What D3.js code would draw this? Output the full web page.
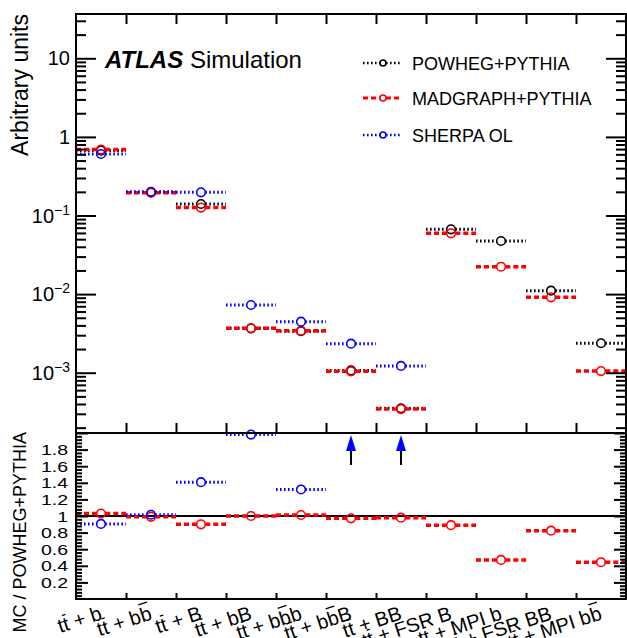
<!DOCTYPE html>
<html>
<head>
<meta charset="utf-8">
<script src="https://cdn.jsdelivr.net/npm/d3@7"></script>
<style>
body { margin: 0; background: #fff; }
text { font-family: "Liberation Sans", Arial, Helvetica, sans-serif; fill: #000; }
</style>
</head>
<body>
<svg></svg>
<script>
// bin labels, {x} means x with an overline
var labels = ["t{t} + b", "t{t} + b{b}", "t{t} + B", "t{t} + bB", "t{t} + b{b}b", "t{t} + b{b}B",
              "t{t} + BB", "t{t} + FSR B", "t{t} + MPI b", "t{t} + FSR BB", "t{t} + MPI b{b}"];

var powheg   = [0.67, 0.197, 0.14, 0.00367, 0.00338, 0.00107, 0.000352, 0.0667, 0.0474, 0.01105, 0.00237];
var madgraph = [0.69, 0.195, 0.126, 0.00367, 0.00342, 0.00104, 0.000345, 0.0593, 0.0223, 0.0091, 0.00105];
var sherpa   = [0.606, 0.20, 0.197, 0.00727, 0.00446, 0.00234, 0.00122, null, null, null, null];
var madgraphRatioErr = [0, 0, 0, 0, 0, 0, 0.05, 0, 0, 0, 0];

var mainTicks = [1e-3, 1e-2, 1e-1, 1, 10];
var ratioTicks = [0.2, 0.4, 0.6, 0.8, 1, 1.2, 1.4, 1.6, 1.8];

var width = 627;
var height = 638;
var padL = 76, padR = 626, padT = 14, padMid = 433, padB = 599;

var svg = d3.select("svg")
            .attr("width", width)
            .attr("height", height);

var x = d3.scaleBand()
          .domain(d3.range(labels.length))
          .range([padL, padR]);
var xEdge = d3.scaleLinear()
              .domain([0, labels.length])
              .range([padL, padR]);
var y = d3.scaleLog()
          .domain([1.71e-4, 36.6])
          .range([padMid, padT]);
var yr = d3.scaleLinear()
           .domain([0, 2])
           .range([padB, padMid]);

var styles = [
  {name: "POWHEG+PYTHIA",   color: "#000",    dash: "1.6,2.4", width: 3},
  {name: "MADGRAPH+PYTHIA", color: "#ff0000", dash: "5,3",     width: 3.5},
  {name: "SHERPA OL",       color: "#0000ff", dash: "1.6,2.4", width: 3}
];

var r = 4.3;

// horizontal bar with a gap for the marker
function drawPoint(g, cx, cy, x0, x1, st, rad) {
  g.append("line").attr("x1", x0).attr("x2", cx - rad).attr("y1", cy).attr("y2", cy)
   .attr("stroke", st.color).attr("stroke-width", st.width).attr("stroke-dasharray", st.dash);
  g.append("line").attr("x1", cx + rad).attr("x2", x1).attr("y1", cy).attr("y2", cy)
   .attr("stroke", st.color).attr("stroke-width", st.width).attr("stroke-dasharray", st.dash);
  g.append("circle").attr("cx", cx).attr("cy", cy).attr("r", rad)
   .attr("fill", "none").attr("stroke", st.color).attr("stroke-width", 1.6);
}

// main panel
var series = [powheg, madgraph, sherpa];
var gMain = svg.append("g");
series.forEach(function(s, k) {
  s.forEach(function(v, i) {
    if (v == null) return;
    drawPoint(gMain, x(i) + x.bandwidth() / 2, y(v), x(i), x(i) + x.bandwidth(), styles[k], r);
  });
});

// ratio panel
var gRatio = svg.append("g");
gRatio.append("line")
  .attr("x1", padL).attr("x2", padR)
  .attr("y1", yr(1)).attr("y2", yr(1))
  .attr("stroke", "#000").attr("stroke-width", 2);

[madgraph, sherpa].forEach(function(s, k) {
  var st = styles[k + 1];
  s.forEach(function(v, i) {
    if (v == null) return;
    var ratio = v / powheg[i];
    var cx = x(i) + x.bandwidth() / 2;
    if (ratio > 2) {
      // off scale: arrow
      gRatio.append("line").attr("x1", cx).attr("x2", cx)
        .attr("y1", padMid + 17).attr("y2", padMid + 32)
        .attr("stroke", "#000").attr("stroke-width", 2);
      gRatio.append("path")
        .attr("d", "M" + cx + "," + (padMid + 2) + "L" + (cx - 5) + "," + (padMid + 18) + "L" + (cx + 5) + "," + (padMid + 18) + "Z")
        .attr("fill", st.color);
      return;
    }
    var cy = yr(ratio);
    if (k == 0 && madgraphRatioErr[i] > 0) {
      gRatio.append("line").attr("x1", cx).attr("x2", cx)
        .attr("y1", yr(ratio + madgraphRatioErr[i])).attr("y2", cy - r)
        .attr("stroke", st.color).attr("stroke-width", 3);
      gRatio.append("line").attr("x1", cx).attr("x2", cx)
        .attr("y1", cy + r).attr("y2", yr(ratio - madgraphRatioErr[i]))
        .attr("stroke", st.color).attr("stroke-width", 3);
    }
    drawPoint(gRatio, cx, cy, x(i), x(i) + x.bandwidth(), st, r);
  });
});

// frames
svg.append("rect").attr("x", padL).attr("y", padT)
   .attr("width", padR - padL).attr("height", padMid - padT)
   .attr("fill", "none").attr("stroke", "#000").attr("stroke-width", 2);
svg.append("rect").attr("x", padL).attr("y", padMid)
   .attr("width", padR - padL).attr("height", padB - padMid)
   .attr("fill", "none").attr("stroke", "#000").attr("stroke-width", 2);

function tickAxis(axis, tx, ty) {
  var g = svg.append("g").attr("transform", "translate(" + tx + "," + ty + ")").call(axis);
  g.select(".domain").remove();
  g.selectAll("line").attr("stroke-width", 2);
  g.selectAll("text").remove();
  return g;
}

// main y ticks
var minors = [];
for (var e = -4; e <= 1; e++) {
  for (var m = 2; m <= 9; m++) {
    var v = m * Math.pow(10, e);
    if (v > y.domain()[0] && v < y.domain()[1]) minors.push(v);
  }
}
tickAxis(d3.axisLeft(y).tickValues(mainTicks).tickSize(-20), padL, 0);
tickAxis(d3.axisLeft(y).tickValues(minors).tickSize(-10), padL, 0);
tickAxis(d3.axisRight(y).tickValues(mainTicks).tickSize(-20), padR, 0);
tickAxis(d3.axisRight(y).tickValues(minors).tickSize(-10), padR, 0);

// bin edge ticks
var edges = d3.range(1, labels.length);
tickAxis(d3.axisTop(xEdge).tickValues(edges).tickSize(-10), 0, padT);
tickAxis(d3.axisBottom(xEdge).tickValues(edges).tickSize(-10), 0, padMid);
tickAxis(d3.axisBottom(xEdge).tickValues(edges).tickSize(-6), 0, padB);

// ratio y ticks
var ratioMinors = d3.range(0.04, 2, 0.04).filter(function(v) {
  return Math.abs(v / 0.2 - Math.round(v / 0.2)) > 0.01;
});
var ratioMajors = ratioTicks.concat([2]);
tickAxis(d3.axisLeft(yr).tickValues(ratioMajors).tickSize(-12), padL, 0);
tickAxis(d3.axisLeft(yr).tickValues(ratioMinors).tickSize(-6), padL, 0);
tickAxis(d3.axisRight(yr).tickValues(ratioMajors).tickSize(-12), padR, 0);
tickAxis(d3.axisRight(yr).tickValues(ratioMinors).tickSize(-6), padR, 0);

// main tick labels
mainTicks.forEach(function(v) {
  var ex = Math.round(Math.log10(v));
  var t = svg.append("text")
             .attr("x", 70).attr("y", y(v) + 7)
             .attr("text-anchor", "end")
             .style("font-size", "20px");
  if (ex == 0) t.text("1");
  else if (ex == 1) t.text("10");
  else {
    t.append("tspan").text("10");
    t.append("tspan").attr("dy", -8).style("font-size", "14px").text("\u2212" + (-ex));
  }
});

// ratio tick labels (wide glyphs as in the original)
ratioTicks.forEach(function(v) {
  svg.append("text")
     .attr("transform", "translate(68," + (yr(v) + 5.5) + ") scale(1.3,1)")
     .attr("text-anchor", "end")
     .style("font-size", "15px")
     .text(v == 1 ? "1" : d3.format(".1f")(v));
});

// x labels, overlines drawn as lines over the marked characters
labels.forEach(function(lab, i) {
  var cx = x(i) + x.bandwidth() / 2 + 2;
  var g = svg.append("g").attr("transform", "translate(" + cx + ",619) rotate(-18)");
  var plain = "", bars = [];
  lab.split(/(\{[^}]*\})/).forEach(function(p) {
    if (!p) return;
    if (p[0] == "{") {
      for (var c = 1; c < p.length - 1; c++) bars.push(plain.length + c - 1);
      plain += p.slice(1, -1);
    } else {
      plain += p;
    }
  });
  var t = g.append("text")
           .attr("text-anchor", "end")
           .style("font-size", "20px")
           .text(plain);
  bars.forEach(function(idx) {
    var ext = t.node().getExtentOfChar(idx);
    var yb = plain[idx] == "t" ? -16 : -18;
    g.append("line")
     .attr("x1", ext.x + 1.5).attr("x2", ext.x + ext.width - 0.5)
     .attr("y1", yb).attr("y2", yb)
     .attr("stroke", "#000").attr("stroke-width", 1.3);
  });
});

// axis titles
svg.append("text")
   .attr("transform", "translate(28,14) rotate(-90)")
   .attr("text-anchor", "end")
   .style("font-size", "23px")
   .text("Arbitrary units");
svg.append("text")
   .attr("transform", "translate(26,432) rotate(-90)")
   .attr("text-anchor", "end")
   .style("font-size", "18px")
   .text("MC / POWHEG+PYTHIA");

// ATLAS label
var atlas = svg.append("text").attr("x", 105).attr("y", 68).style("font-size", "24px");
atlas.append("tspan").style("font-weight", "bold").style("font-style", "italic").text("ATLAS");
atlas.append("tspan").text(" Simulation");

// legend
var legY = [63, 98, 135];
styles.forEach(function(st, k) {
  var g = svg.append("g");
  drawPoint(g, 383, legY[k], 363, 402, {color: st.color, dash: st.dash, width: st.width - 0.5}, 3);
  svg.append("text")
     .attr("x", 412).attr("y", legY[k] + 6.5)
     .style("font-size", "18px")
     .text(st.name);
});
</script>
</body>
</html>
